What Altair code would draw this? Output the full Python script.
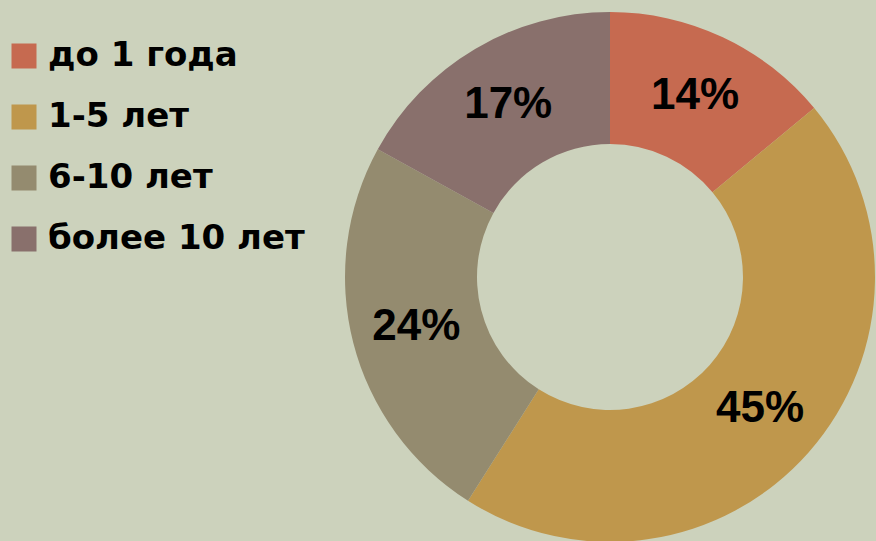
import altair as alt
import pandas as pd

categories = ["до 1 года", "1-5 лет", "6-10 лет", "более 10 лет"]
values = [14, 45, 24, 17]
labels = ["14%", "45%", "24%", "17%"]
colors = ["#C66A50", "#BF974C", "#948B6F", "#89706C"]

df = pd.DataFrame({"cat": categories, "val": values, "lab": labels, "ord": list(range(len(values)))})

CX, CY = 610, 277
R_OUT, R_IN, R_LAB = 265, 133, 200

base = alt.Chart(df).encode(
    theta=alt.Theta("val:Q", stack=True),
    order=alt.Order("ord:O"),
)

arcs = base.mark_arc(radius=R_OUT, radius2=R_IN, stroke=None).encode(
    x=alt.value(CX),
    y=alt.value(CY),
    color=alt.Color(
        "cat:N",
        scale=alt.Scale(domain=categories, range=colors),
        sort=categories,
        legend=alt.Legend(
            title=None,
            orient="none",
            legendX=7,
            legendY=39,
            symbolType="square",
            symbolSize=625,
            symbolStrokeWidth=0,
            symbolOpacity=1,
            labelFontSize=34,
            labelFont="DejaVu Sans",
            labelFontWeight="bold",
            labelColor="black",
            labelLimit=500,
            labelOffset=7,
            rowPadding=27,
            padding=0,
        ),
    ),
)

texts = base.mark_text(
    radius=R_LAB,
    font="Liberation Sans",
    fontWeight="bold",
    fontSize=44,
    color="black",
    align="center",
    baseline="middle",
).encode(
    x=alt.value(CX),
    y=alt.value(CY),
    text="lab:N",
)

chart = (
    alt.layer(arcs, texts)
    .properties(width=876, height=541, background="#CCD2BC", padding=0, autosize=alt.AutoSizeParams(type="none"))
    .configure_view(stroke=None)
)

chart.save("out.html", embed_options={"renderer": "svg", "actions": False})
